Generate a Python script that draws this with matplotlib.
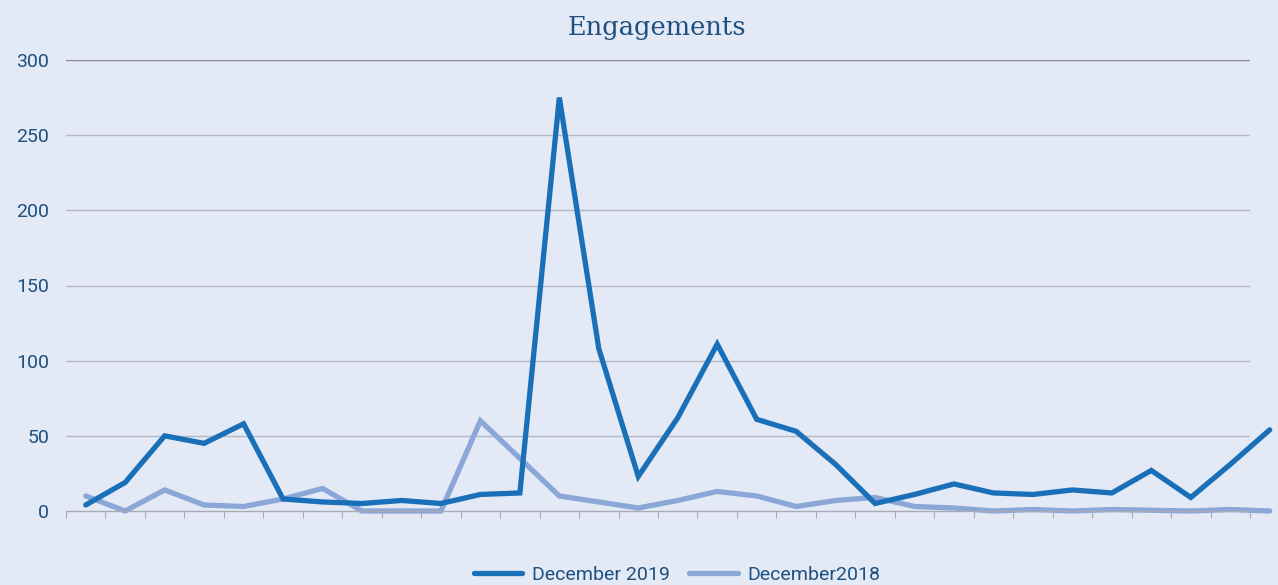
import numpy as np
import matplotlib.pyplot as plt

days = np.arange(31)
dec_2019 = [4, 19, 50, 45, 58, 8, 6, 5, 7, 5, 11, 12, 275, 108, 23, 62, 111, 61, 53, 31,
            5, 11, 18, 12, 11, 14, 12, 27, 9, 31, 54]
dec_2018 = [10, 0, 14, 4, 3, 8, 15, 0, 0, 0, 60, 35, 10, 6, 2, 7, 13, 10, 3, 7,
            9, 3, 2, 0, 1, 0, 1, 0.5, 0, 1, 0]
yticks = [0, 50, 100, 150, 200, 250, 300]

bg = '#e4eaf5'
txt = '#1d4f80'
sans = ['Roboto', 'DejaVu Sans']

fig = plt.figure(figsize=(12.78, 5.85), dpi=100, facecolor=bg)
ax = fig.add_axes([66 / 1278, 1 - 511 / 585, 1184 / 1278, 451 / 585])
ax.set_facecolor(bg)

ax.set_xlim(-0.5, 29.5)
ax.set_ylim(0, 300)

# horizontal grid, top line a little darker
for v in yticks[1:]:
    c = '#8a8d98' if v == 300 else '#b4b8c4'
    ax.axhline(v, color=c, lw=1.0, zorder=1)

ax.plot(days, dec_2019, color='#1a70b8', lw=3.8, solid_capstyle='round',
        solid_joinstyle='miter', clip_on=False, zorder=3, label='December 2019')
ax.plot(days, dec_2018, color='#8aa7d8', lw=3.8, solid_capstyle='round',
        solid_joinstyle='miter', clip_on=False, zorder=2, label='December2018')

for s in ['top', 'right', 'left']:
    ax.spines[s].set_visible(False)
ax.spines['bottom'].set_color('#a8abb5')
ax.spines['bottom'].set_linewidth(1.0)

ax.set_xticks(np.arange(-0.5, 30, 1))
ax.set_xticklabels([])
ax.tick_params(axis='x', length=5, color='#a8abb5', direction='out')
ax.set_yticks(yticks)
ax.set_yticklabels([str(v) for v in yticks], family=sans, fontsize=14, color=txt)
ax.tick_params(axis='y', length=0, pad=12)

fig.text(657 / 1278, 1 - 27 / 585, 'Engagements', ha='center', va='center',
         family=['DejaVu Serif'], fontsize=18.5, color=txt)

ax.legend(loc='center', bbox_to_anchor=(677 / 1278, 1 - 575 / 585),
          bbox_transform=fig.transFigure, ncol=2, frameon=False,
          prop={'family': sans, 'size': 14}, labelcolor=txt,
          handlelength=2.5, columnspacing=1.0, handletextpad=0.5)

fig.savefig('out.png', dpi=100, facecolor=bg)
